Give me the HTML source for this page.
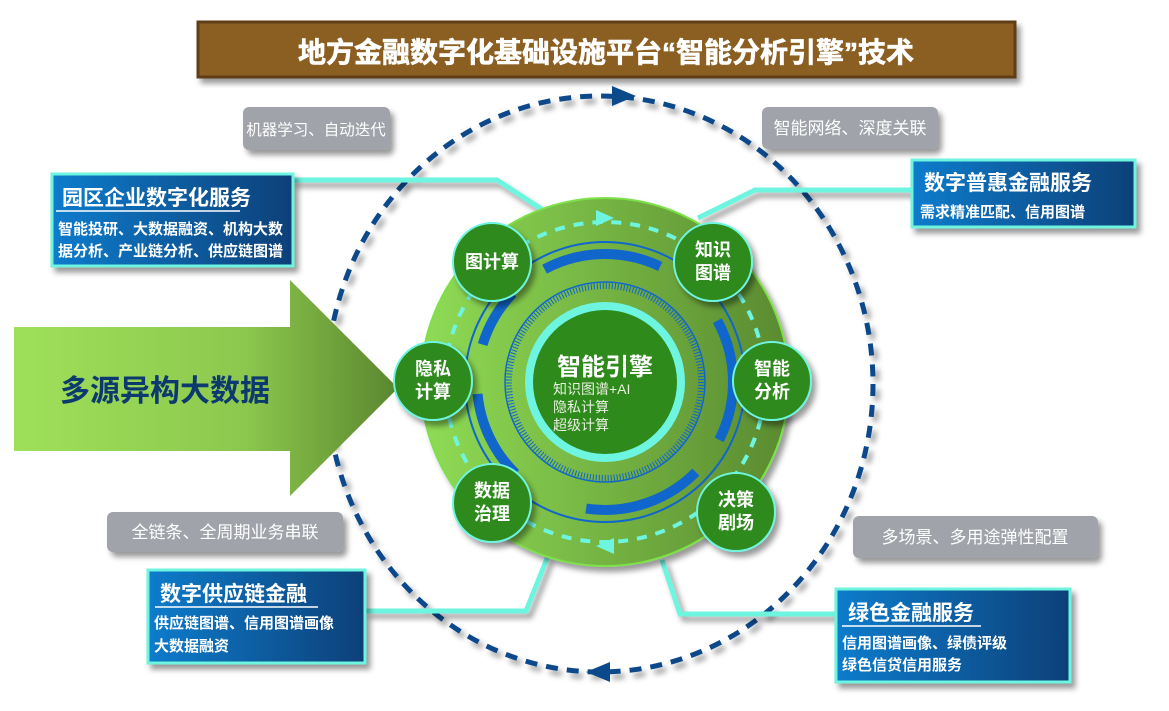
<!DOCTYPE html>
<html><head><meta charset="utf-8"><style>
body{margin:0;background:#fff;width:1169px;height:711px;overflow:hidden}
svg{display:block}
text{font-family:"Liberation Sans","Noto Sans CJK SC",sans-serif}
</style></head><body>
<svg width="1169" height="711" viewBox="0 0 1169 711">
<defs>
<linearGradient id="arr" x1="0" x2="1"><stop offset="0" stop-color="#9fe05a"/><stop offset="0.6" stop-color="#8cc84e"/><stop offset="1" stop-color="#5a862e"/></linearGradient>
<linearGradient id="disc" x1="0" x2="1"><stop offset="0" stop-color="#8fdc55"/><stop offset="1" stop-color="#5a8a30"/></linearGradient>
<linearGradient id="blu" x1="0" x2="1"><stop offset="0" stop-color="#0a7ccc"/><stop offset="1" stop-color="#0a4078"/></linearGradient>
<filter id="sh" x="-10%" y="-10%" width="130%" height="130%"><feDropShadow dx="4" dy="5" stdDeviation="3" flood-color="#000" flood-opacity="0.4"/></filter>
</defs>

<rect x="198" y="22" width="817" height="55" fill="#8b5e22" stroke="#5e3e14" stroke-width="3" filter="url(#sh)"/>
<text x="606" y="62" font-size="28" font-weight="bold" fill="#fff" text-anchor="middle" stroke="#fff" stroke-width="0.6">地方金融数字化基础设施平台“智能分析引擎”技术</text>

<ellipse cx="600" cy="384" rx="273" ry="288" fill="none" stroke="#0a4a8a" stroke-width="5" stroke-dasharray="12 9" filter="url(#sh)"/>
<polygon points="612,86 636,96 612,106" fill="#0a4a8a"/>
<polygon points="610,662 586,672 610,682" fill="#0a4a8a"/>

<g filter="url(#sh)" fill="#a0a4aa">
<rect x="243" y="107" width="147" height="43" rx="6"/>
<rect x="762" y="107" width="176" height="42" rx="6"/>
<rect x="107" y="512" width="236" height="40" rx="6"/>
<rect x="853" y="516" width="245" height="42" rx="6"/>
</g>
<g fill="#fff" font-size="17" text-anchor="middle">
<text x="316" y="135" font-size="15.5">机器学习、自动迭代</text>
<text x="850" y="134">智能网络、深度关联</text>
<text x="225" y="538">全链条、全周期业务串联</text>
<text x="975" y="543">多场景、多用途弹性配置</text>
</g>

<polygon points="14,327 290,327 290,280 398,388 290,496 290,451 14,451" fill="url(#arr)"/>
<text x="60" y="401" font-size="30" font-weight="bold" fill="#0d3a6e">多源异构大数据</text>

<g fill="none" stroke="#6ef5e0" stroke-width="5" filter="url(#sh)">
<polyline points="292,180 497,180 546,212"/>
<polyline points="912,190 755,190 698,218"/>
<polyline points="365,611 526,611 548,556"/>
<polyline points="838,614 680,614 662,560"/>
</g>

<circle cx="605" cy="382" r="184" fill="url(#disc)" stroke="#7de04a" stroke-width="2" filter="url(#sh)"/>
<circle cx="605" cy="382" r="160" fill="none" stroke="#6ef5e0" stroke-width="4" stroke-dasharray="10 9"/>
<polygon points="596,210 614,218 596,226" fill="#6ef5e0"/>
<polygon points="614,538 596,546 614,554" fill="#6ef5e0"/>
<circle cx="605" cy="382" r="140" fill="none" stroke="#1166cc" stroke-width="2"/>
<circle cx="605" cy="382" r="128" fill="none" stroke="#1166cc" stroke-width="10" stroke-dasharray="60 40 120 80 90 50"/>
<circle cx="605" cy="382" r="100" fill="none" stroke="#1166cc" stroke-width="1.5"/>
<circle cx="605" cy="382" r="96" fill="none" stroke="#1166cc" stroke-width="6" stroke-dasharray="1 2"/>
<circle cx="605" cy="382" r="80" fill="#6ef5e0"/>
<circle cx="605" cy="382" r="72" fill="#2e8a1a"/>
<text x="605" y="375" font-size="24" font-weight="bold" fill="#fff" text-anchor="middle">智能引擎</text>
<g font-size="14" fill="#e8f0e0"><text x="553" y="394">知识图谱+AI</text><text x="553" y="412">隐私计算</text><text x="553" y="430">超级计算</text></g>

<g fill="#2e8a1a" stroke="#6ef5e0" stroke-width="2" filter="url(#sh)">
<circle cx="492" cy="262" r="39"/><circle cx="713" cy="262" r="39"/>
<circle cx="433" cy="381" r="39"/><circle cx="772" cy="381" r="39"/>
<circle cx="492" cy="503" r="39"/><circle cx="736" cy="512" r="39"/>
</g>
<g fill="#fff" font-size="18" font-weight="bold" text-anchor="middle">
<text x="492" y="268">图计算</text>
<text x="713" y="256">知识</text><text x="713" y="279">图谱</text>
<text x="433" y="375">隐私</text><text x="433" y="398">计算</text>
<text x="772" y="375">智能</text><text x="772" y="398">分析</text>
<text x="492" y="497">数据</text><text x="492" y="520">治理</text>
<text x="736" y="506">决策</text><text x="736" y="529">剧场</text>
</g>

<g fill="url(#blu)" stroke="#6ef5e0" stroke-width="3" filter="url(#sh)">
<rect x="52" y="174" width="241" height="92"/>
<rect x="912" y="160" width="223" height="67"/>
<rect x="148" y="570" width="217" height="93"/>
<rect x="836" y="589" width="234" height="93"/>
</g>
<g fill="#fff" font-weight="bold">
<text x="62" y="205" font-size="21">园区企业数字化服务</text>
<line x1="56" y1="211" x2="240" y2="211" stroke="#fff" stroke-width="1.5"/>
<text x="58" y="234" font-size="15">智能投研、大数据融资、机构大数</text>
<text x="58" y="256" font-size="15">据分析、产业链分析、供应链图谱</text>
<text x="924" y="190" font-size="21">数字普惠金融服务</text>
<text x="920" y="217" font-size="15">需求精准匹配、信用图谱</text>
<text x="160" y="601" font-size="21">数字供应链金融</text>
<line x1="155" y1="607" x2="318" y2="607" stroke="#fff" stroke-width="1.5"/>
<text x="154" y="628" font-size="15">供应链图谱、信用图谱画像</text>
<text x="154" y="651" font-size="15">大数据融资</text>
<text x="848" y="620" font-size="21">绿色金融服务</text>
<line x1="842" y1="626" x2="981" y2="626" stroke="#fff" stroke-width="1.5"/>
<text x="842" y="648" font-size="15">信用图谱画像、绿债评级</text>
<text x="842" y="670" font-size="15">绿色信贷信用服务</text>
</g>
</svg>
</body></html>
